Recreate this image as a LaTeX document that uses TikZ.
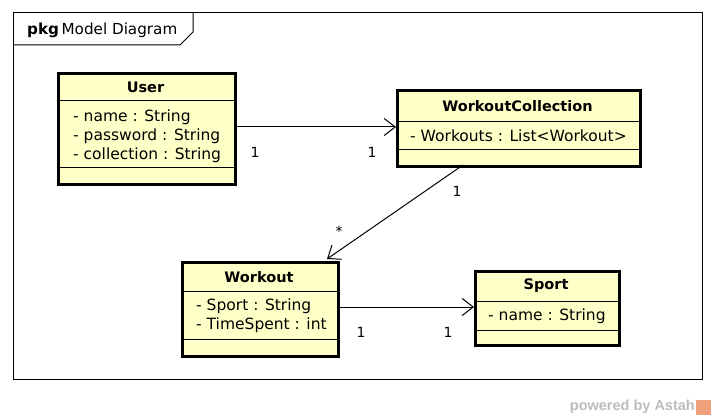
\documentclass[tikz,border=0pt]{standalone}
\usepackage{fontspec}
\setmainfont{DejaVu Sans}
\newfontfamily\wmfont{Liberation Sans}
\usetikzlibrary{arrows.meta}
\definecolor{classfill}{HTML}{FFFFC8}
\definecolor{wmgray}{HTML}{BDBDBD}
\definecolor{wmorange}{HTML}{F0A07A}
\tikzset{
  classbox/.style={draw, line width=3pt, fill=classfill, anchor=north west, inner sep=0pt},
  sepline/.style={line width=1pt},
  ctitle/.style={font=\fontsize{14.5}{16}\selectfont\bfseries, inner sep=0pt},
  cattr/.style={font=\fontsize{15.5}{17}\selectfont, inner sep=0pt, anchor=west},
  mult/.style={font=\fontsize{14}{15}\selectfont, inner sep=0pt},
  assoc/.style={line width=1pt, -{Straight Barb[length=11pt,width=17pt,line width=1pt]}},
}
\begin{document}
\begin{tikzpicture}[x=1pt,y=-1pt]
\useasboundingbox (0,0) rectangle (716,420);
\fill[white] (0,0) rectangle (716,420);
% frame
\draw[line width=1pt] (13,13) rectangle (702,379);
\draw[line width=1pt] (13,45) -- (180,45) -- (193,32) -- (193,13);
\node[font=\fontsize{15.2}{17}\selectfont, anchor=west, inner sep=0pt] (frametitle) at (27,30) {\textbf{pkg}\,Model Diagram};

% User
\node[classbox, minimum width=177pt, minimum height=111pt] (user) at (57,72) {};
\draw[sepline] (57,101) -- (234,101);
\draw[sepline] (57,168) -- (234,168);
\node[ctitle] (usert) at (145.5,87) {User};
\node[cattr] (usera1) at (73,117) {- name : String};
\node[cattr] (usera2) at (73,136) {- password : String};
\node[cattr] (usera3) at (73,155) {- collection : String};

% WorkoutCollection
\node[classbox, minimum width=243pt, minimum height=76pt] (wc) at (396,89) {};
\draw[sepline] (396,122) -- (639,122);
\draw[sepline] (396,150) -- (639,150);
\node[ctitle] (wct) at (517.5,106) {WorkoutCollection};
\node[cattr] (wca1) at (410,136) {- Workouts : List<Workout>};

% Workout
\node[classbox, minimum width=156pt, minimum height=94pt] (wo) at (181,261) {};
\draw[sepline] (181,291) -- (337,291);
\draw[sepline] (181,339) -- (337,339);
\node[ctitle] (wot) at (259,277) {Workout};
\node[cattr] (woa1) at (196,306) {- Sport : String};
\node[cattr] (woa2) at (196,325) {- TimeSpent : int};

% Sport
\node[classbox, minimum width=144pt, minimum height=74pt] (sp) at (474,270) {};
\draw[sepline] (474,301) -- (618,301);
\draw[sepline] (474,330) -- (618,330);
\node[ctitle] (spt) at (546,286) {Sport};
\node[cattr] (spa1) at (488,316) {- name : String};

% connectors
\coordinate (uc) at (user.east |- 0,127);
\coordinate (wcin) at (wc.west |- 0,127);
\draw[assoc] (uc) -- (wcin);
\node[mult] (m1) at (255,152) {1};
\node[mult] (m2) at (372,152) {1};

\coordinate (wcout) at (463,165);
\coordinate (woin) at (327,259);
\draw[assoc] (wcout) -- (woin);
\node[mult] (m3) at (457,191) {1};
\node[mult] (m4) at (339,231) {*};

\coordinate (wo2) at (wo.east |- 0,307);
\coordinate (spin) at (sp.west |- 0,307);
\draw[assoc] (wo2) -- (spin);
\node[mult] (m5) at (361,332) {1};
\node[mult] (m6) at (448,332) {1};

% watermark
\node[font=\fontsize{14.5}{16}\selectfont\wmfont\bfseries, text=wmgray, anchor=east, inner sep=0pt] (wm) at (695,407) {powered by Astah};
\fill[wmorange] (696,400) rectangle (711,415);
\end{tikzpicture}
\end{document}
